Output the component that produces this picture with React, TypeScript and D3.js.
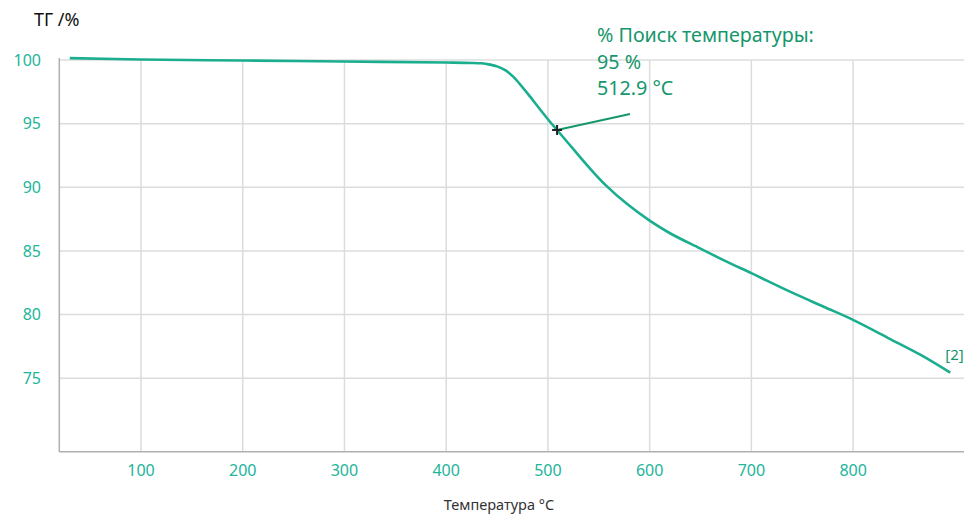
import React from "react";
import * as d3 from "d3";

const temps = [30, 100, 200, 300, 400, 425, 434, 440, 450, 458, 465, 472, 482.5, 492, 502, 509, 525, 540, 557, 577.6, 600, 620, 649.5, 675.7, 700.4, 738, 771, 800.4, 836, 866, 895.5];
const tgValues = [100.15, 100.04, 99.96, 99.88, 99.8, 99.77, 99.74, 99.68, 99.5, 99.2, 98.75, 98.15, 97.12, 96.15, 95.15, 94.5, 93.0, 91.6, 90.15, 88.7, 87.38, 86.39, 85.2, 84.16, 83.24, 81.8, 80.62, 79.57, 78.1, 76.85, 75.44];
const xTicks = [100, 200, 300, 400, 500, 600, 700, 800];
const yTicks = [75, 80, 85, 90, 95, 100];
const annotationLines = ["% Поиск температуры:", "95 %", "512.9 °C"];
const markerPoint = { t: 509, v: 94.5 };
const curveLabel = "[2]";

const W = 964, H = 514;
const FONT = "'Noto Sans', 'Open Sans', sans-serif";

export default function App() {
  const x = d3.scaleLinear().domain([19.7, 909]).range([59.3, 964]);
  const y = d3.scaleLinear().domain([69.23, 100]).range([451.7, 60]);
  const pts: [number, number][] = temps.map((t, i) => [t, tgValues[i]]);
  const line = d3.line<[number, number]>().x(d => x(d[0])).y(d => y(d[1])).curve(d3.curveCatmullRom.alpha(0.5));
  const mx = x(markerPoint.t), my = y(markerPoint.v);
  const last = pts[pts.length - 1];
  return (
    <svg width={W} height={H} style={{ position: "absolute", left: 0, top: 0 }} fontFamily={FONT}>
      <rect width={W} height={H} fill="#fff" />
      {yTicks.map(v => (
        <line key={"gy" + v} x1={59.3} x2={W} y1={y(v)} y2={y(v)} stroke="#dcdcdc" strokeWidth={1.5} />
      ))}
      {xTicks.map(t => (
        <line key={"gx" + t} x1={x(t)} x2={x(t)} y1={y(69.23)} y2={60} stroke="#dcdcdc" strokeWidth={1.5} />
      ))}
      <line x1={59.3} x2={59.3} y1={58} y2={452} stroke="#b0b0b0" strokeWidth={1.5} />
      <line x1={59.3} x2={W} y1={451.7} y2={451.7} stroke="#b0b0b0" strokeWidth={1.5} />
      {yTicks.map(v => (
        <text key={"ty" + v} x={41} y={y(v)} dy="0.35em" textAnchor="end" fontSize={16} fill="#22b59a">{v}</text>
      ))}
      {xTicks.map(t => (
        <text key={"tx" + t} x={x(t)} y={476} textAnchor="middle" fontSize={16} fill="#22b59a">{t}</text>
      ))}
      <text x={34} y={26} fontSize={18} fill="#111">ТГ /%</text>
      <text x={499} y={510} textAnchor="middle" fontSize={14.5} fill="#333">Температура °C</text>
      <path d={line(pts) || ""} fill="none" stroke="#1aae8f" strokeWidth={2.6} />
      <line x1={mx} y1={my} x2={630} y2={114} stroke="#16966c" strokeWidth={2} />
      <path d={`M${mx - 5},${my}H${mx + 5}M${mx},${my - 5}V${my + 5}`} stroke="#222" strokeWidth={2} />
      {annotationLines.map((s, i) => (
        <text key={s} x={597} y={42 + i * 26.5} fontSize={19.7} fill="#16966c">{s}</text>
      ))}
      <text x={x(last[0]) - 5} y={y(last[1]) - 13} fontSize={15} fill="#16966c">{curveLabel}</text>
    </svg>
  );
}
